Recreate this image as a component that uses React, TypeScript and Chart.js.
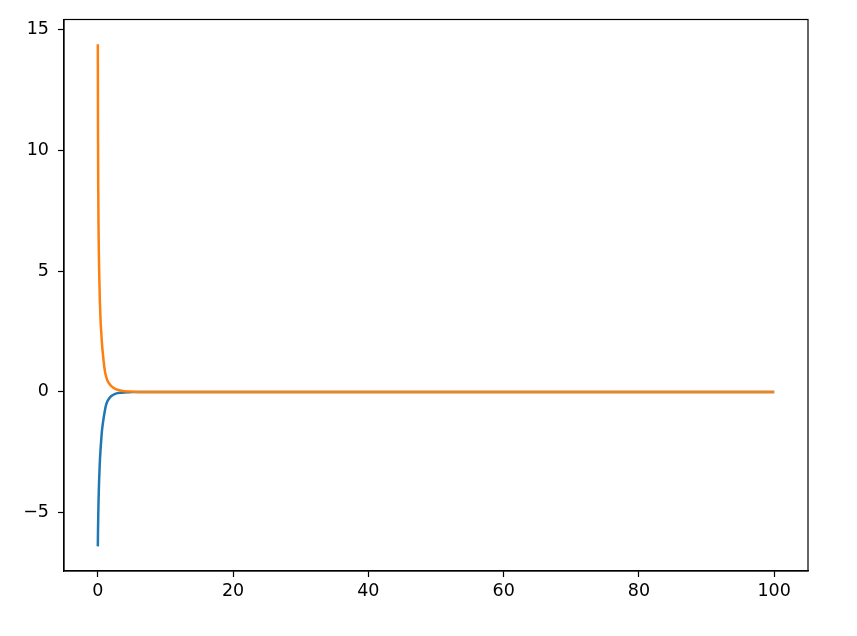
import React, { useEffect, useRef } from "react";
import { Chart, registerables } from "chart.js";

Chart.register(...registerables);

const xValues = [0, 0.03, 0.06, 0.1, 0.15, 0.2, 0.3, 0.4, 0.5, 0.6, 0.7, 0.85, 1.0, 1.15, 1.4, 1.65, 2.0, 2.65, 3.5, 4.8, 6, 10, 20, 40, 60, 80, 100];
const blueValues = [-6.4, -5.7, -5.2, -4.6, -4.05, -3.6, -2.9, -2.4, -2.0, -1.65, -1.4, -1.1, -0.85, -0.62, -0.4, -0.28, -0.17, -0.07, -0.03, -0.01, 0, 0, 0, 0, 0, 0, 0];
const orangeValues = [14.4, 10.5, 8.5, 7.0, 5.8, 5.0, 3.8, 3.0, 2.5, 2.05, 1.72, 1.3, 0.95, 0.72, 0.48, 0.36, 0.24, 0.12, 0.05, 0.015, 0, 0, 0, 0, 0, 0, 0];
const xTicks = [0, 20, 40, 60, 80, 100];
const yTicks = [-5, 0, 5, 10, 15];

const FONT = { family: "'DejaVu Sans', sans-serif", size: 17.5 };

const boxPlugin = {
  id: "box",
  afterDraw(chart: any) {
    const { ctx, chartArea } = chart;
    ctx.save();
    ctx.strokeStyle = "#000";
    ctx.lineWidth = 1.2;
    ctx.strokeRect(chartArea.left, chartArea.top, chartArea.right - chartArea.left, chartArea.bottom - chartArea.top);
    ctx.restore();
  },
};

export default function App() {
  const ref = useRef<HTMLCanvasElement>(null);
  useEffect(() => {
    const toPts = (ys: number[]) => xValues.map((x, i) => ({ x, y: ys[i] }));
    const chart = new Chart(ref.current!, {
      type: "line",
      data: {
        datasets: [
          {
            data: toPts(orangeValues),
            borderColor: "#ff7f0e",
            borderWidth: 2.5,
            pointRadius: 0,
            cubicInterpolationMode: "monotone",
            order: 1,
          },
          {
            data: toPts(blueValues),
            borderColor: "#1f77b4",
            borderWidth: 2.5,
            pointRadius: 0,
            cubicInterpolationMode: "monotone",
            order: 2,
          },
        ],
      },
      options: {
        animation: false,
        responsive: false,
        layout: { padding: { left: 0, top: 18, right: 49, bottom: 0 } },
        plugins: { legend: { display: false }, tooltip: { enabled: false } },
        scales: {
          x: {
            type: "linear",
            min: -5,
            max: 105,
            afterBuildTicks: (axis: any) => {
              axis.ticks = xTicks.map((v) => ({ value: v }));
            },
            afterFit: (axis: any) => {
              axis.height = 65;
            },
            ticks: {
              color: "#000",
              font: FONT,
              padding: 4,
              maxRotation: 0,
              callback: (v: any) => String(v).replace("-", "\u2212"),
            },
            grid: { display: true, drawOnChartArea: false, drawTicks: true, tickLength: 6, color: "#000", tickWidth: 1.2 },
            border: { display: true, color: "#000", width: 1.2 },
          },
          y: {
            type: "linear",
            min: -7.42,
            max: 15.43,
            afterBuildTicks: (axis: any) => {
              axis.ticks = yTicks.map((v) => ({ value: v }));
            },
            afterFit: (axis: any) => {
              axis.width = 64;
            },
            ticks: {
              color: "#000",
              font: FONT,
              padding: 9,
              callback: (v: any) => String(v).replace("-", "\u2212"),
            },
            grid: { display: true, drawOnChartArea: false, drawTicks: true, tickLength: 6, color: "#000", tickWidth: 1.2 },
            border: { display: true, color: "#000", width: 1.2 },
          },
        },
      },
      plugins: [boxPlugin],
    } as any);
    return () => chart.destroy();
  }, []);
  return (
    <div style={{ position: "fixed", left: 0, top: 0, width: 857, height: 636, background: "#fff" }}>
      <canvas ref={ref} width={857} height={636} style={{ display: "block" }} />
    </div>
  );
}
